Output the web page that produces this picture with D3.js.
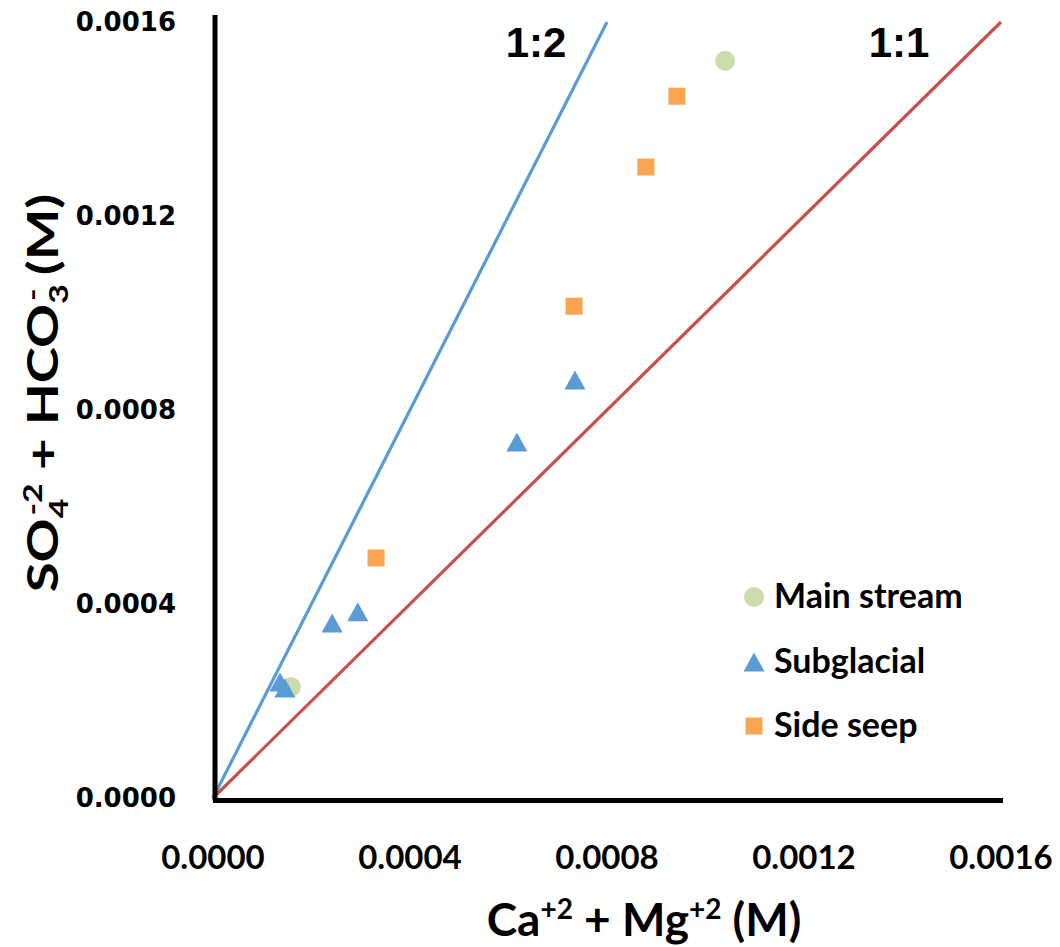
<!DOCTYPE html>
<html>
<head>
<meta charset="utf-8">
<script src="https://cdn.jsdelivr.net/npm/d3@7"></script>
<style>
  html, body { margin: 0; padding: 0; background: #fff; }
  svg { display: block; }
</style>
</head>
<body>
<div id="chart"></div>
<script>
// Ion balance: cation sum vs anion sum (molar), with 1:1 and 1:2 reference lines
const xTicks = [0, 0.0004, 0.0008, 0.0012, 0.0016];
const yTicks = [0, 0.0004, 0.0008, 0.0012, 0.0016];
const xTickLabels = ["0.0000", "0.0004", "0.0008", "0.0012", "0.0016"];
const yTickLabels = ["0.0000", "0.0004", "0.0008", "0.0012", "0.0016"];

// Ca+2 + Mg+2 (x) and SO4-2 + HCO3- (y), mol/L
const mainStreamX = [0.000158, 0.001040];
const mainStreamY = [0.000229, 0.001520];
const subglacialX = [0.000136, 0.000146, 0.000242, 0.000294, 0.000617, 0.000735];
const subglacialY = [0.000239, 0.000227, 0.000361, 0.000384, 0.000734, 0.000862];
const sideSeepX = [0.000331, 0.000733, 0.000879, 0.000942];
const sideSeepY = [0.000495, 0.001014, 0.001301, 0.001447];

const seriesNames = ["Main stream", "Subglacial", "Side seep"];
const ratioLabels = ["1:2", "1:1"];
const ratioSlopes = [2, 1];

const W = 1060, H = 947;
const svg = d3.select("#chart").append("svg").attr("width", W).attr("height", H);

const x = d3.scaleLinear().domain([0, 0.0016]).range([213, 1001]);
const y = d3.scaleLinear().domain([0, 0.0016]).range([798, 22]);

const colors = {
  blue: "#5B9BD5",
  red: "#C8504C",
  orange: "#F9A552",
  green: "#CDDCAB"
};

// Reference lines, clipped at the top of the plot
const lineColors = [colors.blue, colors.red];
ratioSlopes.forEach((s, i) => {
  const xEnd = Math.min(0.0016, 0.0016 / s);
  svg.append("line")
    .attr("x1", x(0)).attr("y1", y(0))
    .attr("x2", x(xEnd)).attr("y2", y(xEnd * s))
    .attr("stroke", lineColors[i]).attr("stroke-width", 3.2);
});

// Ratio labels
const labelPos = [0.000656, 0.001393];
ratioLabels.forEach((t, i) => {
  svg.append("text")
    .attr("x", x(labelPos[i])).attr("y", 57)
    .attr("text-anchor", "middle")
    .attr("font-family", "Liberation Sans, Arial, sans-serif")
    .attr("font-weight", "bold").attr("font-size", 42)
    .attr("fill", "#000").text(t);
});

// Axes lines
svg.append("line").attr("x1", x(0) + 2).attr("x2", x(0) + 2)
  .attr("y1", 15).attr("y2", y(0) + 2.5)
  .attr("stroke", "#000").attr("stroke-width", 5);
svg.append("line").attr("x1", x(0)).attr("x2", x(0.0016) + 2)
  .attr("y1", y(0) + 2.5).attr("y2", y(0) + 2.5)
  .attr("stroke", "#000").attr("stroke-width", 5);

// Y tick labels
svg.append("g").selectAll("text").data(yTicks).join("text")
  .attr("x", 176).attr("y", d => y(d))
  .attr("dy", "0.36em")
  .attr("text-anchor", "end")
  .attr("font-family", "DejaVu Sans, Verdana, sans-serif")
  .attr("font-weight", "bold").attr("font-size", 26)
  .attr("fill", "#000")
  .text((d, i) => yTickLabels[i]);

// X tick labels
svg.append("g").selectAll("text").data(xTicks).join("text")
  .attr("x", d => x(d)).attr("y", 869)
  .attr("text-anchor", "middle")
  .attr("font-family", "Lato, Carlito, sans-serif")
  .attr("font-weight", "bold").attr("font-size", 33)
  .attr("fill", "#000")
  .text((d, i) => xTickLabels[i]);

// Marker drawing helpers
const triPath = (cx, cy, w, h) =>
  `M${cx},${cy - h / 2}L${cx + w / 2},${cy + h / 2}L${cx - w / 2},${cy + h / 2}Z`;

function drawCircle(g, cx, cy) {
  g.append("circle").attr("cx", cx).attr("cy", cy).attr("r", 10).attr("fill", colors.green);
}
function drawTriangle(g, cx, cy) {
  g.append("path").attr("d", triPath(cx, cy, 21, 19)).attr("fill", colors.blue);
}
function drawSquare(g, cx, cy) {
  g.append("rect").attr("x", cx - 8.5).attr("y", cy - 8.5)
    .attr("width", 17).attr("height", 17).attr("fill", colors.orange);
}

const pts = svg.append("g");
mainStreamX.forEach((v, i) => drawCircle(pts, x(v), y(mainStreamY[i])));
subglacialX.forEach((v, i) => drawTriangle(pts, x(v), y(subglacialY[i])));
sideSeepX.forEach((v, i) => drawSquare(pts, x(v), y(sideSeepY[i])));

// Legend
const legend = svg.append("g");
const legendY = [597, 662, 726];
const drawers = [drawCircle, drawTriangle, drawSquare];
seriesNames.forEach((name, i) => {
  drawers[i](legend, 754, legendY[i]);
  legend.append("text")
    .attr("x", 774).attr("y", legendY[i] + 11)
    .attr("font-family", "Lato, Carlito, sans-serif")
    .attr("font-weight", "bold").attr("font-size", 34)
    .attr("fill", "#000").text(name);
});

// Axis titles
const xTitle = svg.append("text")
  .attr("x", 644).attr("y", 936)
  .attr("text-anchor", "middle")
  .attr("font-family", "Lato, Carlito, sans-serif")
  .attr("font-weight", "bold").attr("font-size", 46)
  .attr("fill", "#000");
xTitle.append("tspan").text("Ca");
xTitle.append("tspan").attr("font-size", 28).attr("dy", -17).text("+2");
xTitle.append("tspan").attr("dy", 17).text(" + Mg");
xTitle.append("tspan").attr("font-size", 28).attr("dy", -17).text("+2");
xTitle.append("tspan").attr("dy", 17).text(" (M)");

// Vertical title, stretched along its length
const yTitle = svg.append("text")
  .attr("transform", "translate(58,393) rotate(-90) scale(1.3,1)")
  .attr("text-anchor", "middle")
  .attr("font-family", "Lato, Carlito, sans-serif")
  .attr("font-weight", "bold").attr("font-size", 42)
  .attr("fill", "#000");
yTitle.append("tspan").text("SO");
yTitle.append("tspan").attr("font-size", 26).attr("dy", 10).text("4");
yTitle.append("tspan").attr("font-size", 26).attr("dx", -13).attr("dy", -26).text("-2");
yTitle.append("tspan").attr("dy", 16).text(" + HCO");
yTitle.append("tspan").attr("font-size", 26).attr("dy", 10).text("3");
yTitle.append("tspan").attr("font-size", 26).attr("dx", -13).attr("dy", -26).text("-");
yTitle.append("tspan").attr("dy", 16).text(" (M)");
</script>
</body>
</html>
